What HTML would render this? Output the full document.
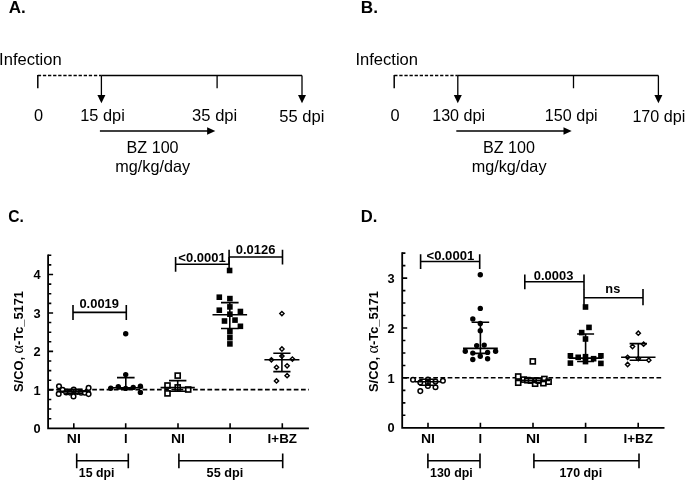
<!DOCTYPE html>
<html><head><meta charset="utf-8"><title>Figure</title>
<style>
html,body{margin:0;padding:0;background:#fff;}
svg{display:block;will-change:transform;filter:grayscale(1)}
text{font-family:"Liberation Sans",Arial,sans-serif;fill:#000}
.r{font-size:16.5px}
.b{font-weight:bold;font-size:12.8px}
.t{font-weight:bold;font-size:16px}
.l{stroke:#000;stroke-width:1.3;fill:none}
.k{stroke:#000;stroke-width:1.6;fill:none}
.oc{stroke:#000;stroke-width:1.5;fill:#fff}
.fc{fill:#000}
</style></head><body>
<svg width="685" height="482" viewBox="0 0 685 482">
<rect width="685" height="482" fill="#fff"/>

<text x="8.7" y="13.3" class="t" text-anchor="start" textLength="17.0" lengthAdjust="spacingAndGlyphs">A.</text>
<text x="-0.9" y="64.6" class="r" text-anchor="start" textLength="62.6" lengthAdjust="spacingAndGlyphs">Infection</text>
<path class="l" d="M37.8 88.3V74.9" style="stroke-width:1.5"/>
<path class="l" stroke-dasharray="3.3 1.8" d="M37.8 75.5H101.4" style="stroke-width:1.5"/>
<path class="l" d="M101.4 75.5H302.0M217.10000000000002 75.5V88.3M101.4 75.5V96M302.0 75.5V96"/>
<path class="fc" d="M97.4 95L105.4 95L101.4 103.2Z"/>
<path class="fc" d="M298.0 95L306.0 95L302.0 103.2Z"/>
<path class="l" d="M99.9 131H209.10000000000002"/>
<path class="fc" d="M207.10000000000002 127.2L215.3 131L207.10000000000002 134.8Z"/>
<text x="33.9" y="120.8" class="r" text-anchor="start" textLength="9.1" lengthAdjust="spacingAndGlyphs">0</text>
<text x="80.2" y="120.8" class="r" text-anchor="start" textLength="44.6" lengthAdjust="spacingAndGlyphs">15 dpi</text>
<text x="192.1" y="120.8" class="r" text-anchor="start" textLength="45.2" lengthAdjust="spacingAndGlyphs">35 dpi</text>
<text x="279.2" y="122.1" class="r" text-anchor="start" textLength="45.2" lengthAdjust="spacingAndGlyphs">55 dpi</text>
<text x="152.6" y="152.5" class="r" text-anchor="middle" textLength="52" lengthAdjust="spacingAndGlyphs">BZ 100</text>
<text x="152.7" y="171.6" class="r" text-anchor="middle" textLength="74.8" lengthAdjust="spacingAndGlyphs">mg/kg/day</text>
<text x="360.8" y="13.3" class="t" text-anchor="start" textLength="17.2" lengthAdjust="spacingAndGlyphs">B.</text>
<text x="355.40000000000003" y="64.6" class="r" text-anchor="start" textLength="62.6" lengthAdjust="spacingAndGlyphs">Infection</text>
<path class="l" d="M394.2 88.3V74.9" style="stroke-width:1.5"/>
<path class="l" stroke-dasharray="3.3 1.8" d="M394.2 75.5H457.8" style="stroke-width:1.5"/>
<path class="l" d="M457.8 75.5H658.4M573.5 75.5V88.3M457.8 75.5V96M658.4 75.5V96"/>
<path class="fc" d="M453.8 95L461.8 95L457.8 103.2Z"/>
<path class="fc" d="M654.4 95L662.4 95L658.4 103.2Z"/>
<path class="l" d="M456.3 131H565.5"/>
<path class="fc" d="M563.5 127.2L571.7 131L563.5 134.8Z"/>
<text x="390.4" y="120.8" class="r" text-anchor="start" textLength="9.1" lengthAdjust="spacingAndGlyphs">0</text>
<text x="432.2" y="120.8" class="r" text-anchor="start" textLength="52.9" lengthAdjust="spacingAndGlyphs">130 dpi</text>
<text x="544.8" y="120.8" class="r" text-anchor="start" textLength="52.9" lengthAdjust="spacingAndGlyphs">150 dpi</text>
<text x="632.4" y="122.1" class="r" text-anchor="start" textLength="52.9" lengthAdjust="spacingAndGlyphs">170 dpi</text>
<text x="509.0" y="152.5" class="r" text-anchor="middle" textLength="52" lengthAdjust="spacingAndGlyphs">BZ 100</text>
<text x="509.1" y="171.6" class="r" text-anchor="middle" textLength="74.8" lengthAdjust="spacingAndGlyphs">mg/kg/day</text>
<text x="8.2" y="222.4" class="t" text-anchor="start" textLength="15.6" lengthAdjust="spacingAndGlyphs">C.</text>
<path d="M48.1 254.475V428.3H308.9" fill="none" stroke="#000" stroke-width="1.8"/>
<path d="M48.1 418.69h3.2M48.1 409.07h3.2M48.1 399.46h3.2M48.1 389.85h5M48.1 380.24h3.2M48.1 370.62h3.2M48.1 361.01h3.2M48.1 351.4h5M48.1 341.79h3.2M48.1 332.18h3.2M48.1 322.56h3.2M48.1 312.95h5M48.1 303.34h3.2M48.1 293.73h3.2M48.1 284.11h3.2M48.1 274.5h5M48.1 264.89h3.2M48.1 255.28h3.2M73.8 428.3v-5M125.7 428.3v-5M178 428.3v-5M230.1 428.3v-5M282.3 428.3v-5" fill="none" stroke="#000" stroke-width="1.6"/>
<text x="40.6" y="432.9" class="b" text-anchor="end">0</text>
<text x="40.6" y="394.5" class="b" text-anchor="end">1</text>
<text x="40.6" y="356.0" class="b" text-anchor="end">2</text>
<text x="40.6" y="317.6" class="b" text-anchor="end">3</text>
<text x="40.6" y="279.1" class="b" text-anchor="end">4</text>
<path d="M49.0 389.65H308.9" fill="none" stroke="#000" stroke-width="1.6" stroke-dasharray="4.7 2.5"/>
<text class="b" style="font-size:13.5px" transform="translate(22.7 392) rotate(-90)" textLength="101" lengthAdjust="spacingAndGlyphs">S/CO, <tspan style="font-family:'Liberation Serif','DejaVu Serif',serif;font-weight:normal;font-size:17px">α</tspan>-Tc_5171</text>
<text x="73.8" y="442.6" class="b" text-anchor="middle" textLength="14.0" lengthAdjust="spacingAndGlyphs">NI</text>
<text x="125.7" y="442.6" class="b" text-anchor="middle" textLength="3.6" lengthAdjust="spacingAndGlyphs">I</text>
<text x="178" y="442.6" class="b" text-anchor="middle" textLength="14.0" lengthAdjust="spacingAndGlyphs">NI</text>
<text x="230.1" y="442.6" class="b" text-anchor="middle" textLength="3.6" lengthAdjust="spacingAndGlyphs">I</text>
<text x="282.3" y="442.6" class="b" text-anchor="middle" textLength="29.4" lengthAdjust="spacingAndGlyphs">I+BZ</text>
<circle class="oc" cx="59.0" cy="386.2" r="2.3"/>
<circle class="oc" cx="62.6" cy="389.9" r="2.3"/>
<circle class="oc" cx="58.7" cy="393.9" r="2.3"/>
<circle class="oc" cx="66.2" cy="392.4" r="2.3"/>
<circle class="oc" cx="73.7" cy="389.5" r="2.3"/>
<circle class="oc" cx="73.5" cy="396.4" r="2.3"/>
<circle class="oc" cx="69.9" cy="392.6" r="2.3"/>
<circle class="oc" cx="77.4" cy="392" r="2.3"/>
<circle class="oc" cx="81.1" cy="392.8" r="2.3"/>
<circle class="oc" cx="84.9" cy="392.8" r="2.3"/>
<circle class="oc" cx="88.6" cy="387.9" r="2.3"/>
<circle class="oc" cx="88.6" cy="394.1" r="2.3"/>
<path class="k" d="M65.1 389.3H82.5M65.1 393.2H82.5M73.8 389.3V393.2M56.8 391.4H90.8"/>
<circle class="fc" cx="125.7" cy="333.8" r="2.7"/>
<circle class="fc" cx="125.7" cy="374.6" r="2.7"/>
<circle class="fc" cx="110.8" cy="388.3" r="2.7"/>
<circle class="fc" cx="118.3" cy="386.6" r="2.7"/>
<circle class="fc" cx="125.7" cy="388.4" r="2.7"/>
<circle class="fc" cx="133.2" cy="387.4" r="2.7"/>
<circle class="fc" cx="140.4" cy="386.2" r="2.7"/>
<circle class="fc" cx="140.4" cy="392.4" r="2.7"/>
<path class="k" d="M117.0 377.6H134.6M117.0 388.9H134.6M125.8 377.6V388.9M108.4 387.8H143.2"/>
<rect class="oc" x="175.2" y="373.1" width="5" height="5" style="stroke-width:1.65"/>
<rect class="oc" x="165.0" y="383.0" width="5" height="5" style="stroke-width:1.65"/>
<rect class="oc" x="165.0" y="390.9" width="5" height="5" style="stroke-width:1.65"/>
<rect class="oc" x="175.2" y="384.9" width="5" height="5" style="stroke-width:1.65"/>
<rect class="oc" x="185.7" y="387.0" width="5" height="5" style="stroke-width:1.65"/>
<path class="k" d="M169.0 380.6H186.39999999999998M169.0 391.2H186.39999999999998M177.7 380.6V391.2M160.6 387.6H194.79999999999998"/>
<rect class="fc" x="226.79999999999998" y="267.7" width="5.6" height="5.6"/>
<rect class="fc" x="216.5" y="294.4" width="5.6" height="5.6"/>
<rect class="fc" x="227.1" y="295.8" width="5.6" height="5.6"/>
<rect class="fc" x="227.1" y="304.09999999999997" width="5.6" height="5.6"/>
<rect class="fc" x="216.5" y="307.4" width="5.6" height="5.6"/>
<rect class="fc" x="237.6" y="308.7" width="5.6" height="5.6"/>
<rect class="fc" x="227.1" y="311.4" width="5.6" height="5.6"/>
<rect class="fc" x="221.7" y="318.2" width="5.6" height="5.6"/>
<rect class="fc" x="232.2" y="317.3" width="5.6" height="5.6"/>
<rect class="fc" x="237.6" y="323.5" width="5.6" height="5.6"/>
<rect class="fc" x="227.1" y="328.9" width="5.6" height="5.6"/>
<rect class="fc" x="227.1" y="334.9" width="5.6" height="5.6"/>
<rect class="fc" x="227.1" y="341.09999999999997" width="5.6" height="5.6"/>
<path class="k" d="M221.0 302.6H238.60000000000002M221.0 328.5H238.60000000000002M229.8 302.6V328.5M212.5 314.7H247.10000000000002"/>
<path class="oc" style="stroke-width:1.4" d="M281.9 311.45000000000005L284.04999999999995 313.6L281.9 315.75L279.75 313.6Z"/>
<path class="oc" style="stroke-width:1.4" d="M281.9 346.85L284.04999999999995 349L281.9 351.15L279.75 349Z"/>
<path class="oc" style="stroke-width:1.4" d="M281.9 353.95000000000005L284.04999999999995 356.1L281.9 358.25L279.75 356.1Z"/>
<path class="oc" style="stroke-width:1.4" d="M271.4 357.65000000000003L273.54999999999995 359.8L271.4 361.95L269.25 359.8Z"/>
<path class="oc" style="stroke-width:1.4" d="M292.4 356.95000000000005L294.54999999999995 359.1L292.4 361.25L290.25 359.1Z"/>
<path class="oc" style="stroke-width:1.4" d="M276.5 365.15000000000003L278.65 367.3L276.5 369.45L274.35 367.3Z"/>
<path class="oc" style="stroke-width:1.4" d="M287.1 363.65000000000003L289.25 365.8L287.1 367.95L284.95000000000005 365.8Z"/>
<path class="oc" style="stroke-width:1.4" d="M287.1 373.55L289.25 375.7L287.1 377.84999999999997L284.95000000000005 375.7Z"/>
<path class="oc" style="stroke-width:1.4" d="M276.5 378.75L278.65 380.9L276.5 383.04999999999995L274.35 380.9Z"/>
<path class="k" d="M273.29999999999995 353.3H290.5M273.29999999999995 371.6H290.5M281.9 353.3V371.6M264.4 359.8H299.4"/>
<path class="k" d="M73 312.4H126.3M73 305.09999999999997V319.9M126.3 305.09999999999997V319.9"/>
<text x="99.2" y="307.8" class="b" text-anchor="middle" textLength="39.5" lengthAdjust="spacingAndGlyphs">0.0019</text>
<path class="k" d="M175.6 264.3H229.1M175.6 257.0V271.8M229.1 257.0V271.8"/>
<text x="202" y="261.6" class="b" text-anchor="middle" textLength="47.3" lengthAdjust="spacingAndGlyphs">&lt;0.0001</text>
<path class="k" d="M229.1 257H282.5M229.1 249.7V264.5M282.5 249.7V264.5"/>
<text x="255.6" y="254" class="b" text-anchor="middle" textLength="39.7" lengthAdjust="spacingAndGlyphs">0.0126</text>
<path class="k" d="M76.7 460.7H128.3M76.7 453.4V468.2M128.3 453.4V468.2"/>
<text x="96.6" y="477.1" class="b" text-anchor="middle" textLength="35.6" lengthAdjust="spacingAndGlyphs">15 dpi</text>
<path class="k" d="M178.9 460.7H282.7M178.9 453.4V468.2M282.7 453.4V468.2"/>
<text x="224.9" y="477.1" class="b" text-anchor="middle" textLength="36.6" lengthAdjust="spacingAndGlyphs">55 dpi</text>
<text x="360.8" y="222.4" class="t" text-anchor="start" textLength="16.6" lengthAdjust="spacingAndGlyphs">D.</text>
<path d="M402.2 252.35V427.8H664.5" fill="none" stroke="#000" stroke-width="1.8"/>
<path d="M402.2 415.32h3.2M402.2 402.85h3.2M402.2 390.38h3.2M402.2 377.9h5M402.2 365.43h3.2M402.2 352.95h3.2M402.2 340.48h3.2M402.2 328.0h5M402.2 315.53h3.2M402.2 303.05h3.2M402.2 290.58h3.2M402.2 278.1h5M402.2 265.62h3.2M402.2 253.15h3.2M428 427.8v-5M480.4 427.8v-5M533 427.8v-5M585.6 427.8v-5M638.2 427.8v-5" fill="none" stroke="#000" stroke-width="1.6"/>
<text x="394.7" y="432.4" class="b" text-anchor="end">0</text>
<text x="394.7" y="382.5" class="b" text-anchor="end">1</text>
<text x="394.7" y="332.6" class="b" text-anchor="end">2</text>
<text x="394.7" y="282.7" class="b" text-anchor="end">3</text>
<path d="M404.45 377.7H662" fill="none" stroke="#000" stroke-width="1.6" stroke-dasharray="4.7 2.5"/>
<text class="b" style="font-size:13.5px" transform="translate(378.3 392) rotate(-90)" textLength="101" lengthAdjust="spacingAndGlyphs">S/CO, <tspan style="font-family:'Liberation Serif','DejaVu Serif',serif;font-weight:normal;font-size:17px">α</tspan>-Tc_5171</text>
<text x="428" y="442.6" class="b" text-anchor="middle" textLength="14.0" lengthAdjust="spacingAndGlyphs">NI</text>
<text x="480.4" y="442.6" class="b" text-anchor="middle" textLength="3.6" lengthAdjust="spacingAndGlyphs">I</text>
<text x="533" y="442.6" class="b" text-anchor="middle" textLength="14.0" lengthAdjust="spacingAndGlyphs">NI</text>
<text x="585.6" y="442.6" class="b" text-anchor="middle" textLength="3.6" lengthAdjust="spacingAndGlyphs">I</text>
<text x="638.2" y="442.6" class="b" text-anchor="middle" textLength="29.4" lengthAdjust="spacingAndGlyphs">I+BZ</text>
<circle class="oc" cx="413" cy="379.7" r="2.3"/>
<circle class="oc" cx="420.3" cy="382.5" r="2.3"/>
<circle class="oc" cx="420.3" cy="391.1" r="2.3"/>
<circle class="oc" cx="427.9" cy="379.5" r="2.3"/>
<circle class="oc" cx="427.9" cy="382.7" r="2.3"/>
<circle class="oc" cx="427.9" cy="386" r="2.3"/>
<circle class="oc" cx="435.5" cy="381.6" r="2.3"/>
<circle class="oc" cx="435.5" cy="387.3" r="2.3"/>
<circle class="oc" cx="442.9" cy="380.8" r="2.3"/>
<path class="k" d="M419.3 379.2H436.7M419.3 385.2H436.7M428 379.2V385.2M415 381.8H441"/>
<circle class="fc" cx="480.3" cy="274.8" r="2.7"/>
<circle class="fc" cx="480.3" cy="308.4" r="2.7"/>
<circle class="fc" cx="472.8" cy="318.9" r="2.7"/>
<circle class="fc" cx="480.3" cy="323.4" r="2.7"/>
<circle class="fc" cx="480.3" cy="330.7" r="2.7"/>
<circle class="fc" cx="476.7" cy="345.6" r="2.7"/>
<circle class="fc" cx="484.2" cy="345.1" r="2.7"/>
<circle class="fc" cx="465.3" cy="351.3" r="2.7"/>
<circle class="fc" cx="472.8" cy="353.1" r="2.7"/>
<circle class="fc" cx="487.6" cy="352.4" r="2.7"/>
<circle class="fc" cx="495.6" cy="351.3" r="2.7"/>
<circle class="fc" cx="480.3" cy="356.3" r="2.7"/>
<circle class="fc" cx="472.8" cy="359.5" r="2.7"/>
<circle class="fc" cx="487.6" cy="358.8" r="2.7"/>
<path class="k" d="M471.59999999999997 322.2H489.2M471.59999999999997 353.4H489.2M480.4 322.2V353.4M463.0 348.4H497.79999999999995"/>
<rect class="oc" x="530.3" y="358.9" width="5" height="5" style="stroke-width:1.65"/>
<rect class="oc" x="515.7" y="374.0" width="5" height="5" style="stroke-width:1.65"/>
<rect class="oc" x="515.7" y="380.2" width="5" height="5" style="stroke-width:1.65"/>
<rect class="oc" x="521.2" y="377.1" width="5" height="5" style="stroke-width:1.65"/>
<rect class="oc" x="524.8" y="377.6" width="5" height="5" style="stroke-width:1.65"/>
<rect class="oc" x="528.5" y="378.1" width="5" height="5" style="stroke-width:1.65"/>
<rect class="oc" x="532.6" y="381.2" width="5" height="5" style="stroke-width:1.65"/>
<rect class="oc" x="536.2" y="378.1" width="5" height="5" style="stroke-width:1.65"/>
<rect class="oc" x="540.9" y="380.7" width="5" height="5" style="stroke-width:1.65"/>
<rect class="oc" x="541.9" y="376.5" width="5" height="5" style="stroke-width:1.65"/>
<rect class="oc" x="546.1" y="379.2" width="5" height="5" style="stroke-width:1.65"/>
<path class="k" d="M524.3 378.3H541.7M524.3 382.5H541.7M533 378.3V382.5M516 380.4H550"/>
<rect class="fc" x="582.7" y="304.2" width="5.6" height="5.6"/>
<rect class="fc" x="586.2" y="324.59999999999997" width="5.6" height="5.6"/>
<rect class="fc" x="578.9000000000001" y="329.8" width="5.6" height="5.6"/>
<rect class="fc" x="582.7" y="336.2" width="5.6" height="5.6"/>
<rect class="fc" x="567.6" y="353.0" width="5.6" height="5.6"/>
<rect class="fc" x="575.4000000000001" y="354.5" width="5.6" height="5.6"/>
<rect class="fc" x="582.7" y="353.9" width="5.6" height="5.6"/>
<rect class="fc" x="590.8000000000001" y="355.9" width="5.6" height="5.6"/>
<rect class="fc" x="598.1" y="353.0" width="5.6" height="5.6"/>
<rect class="fc" x="567.6" y="360.3" width="5.6" height="5.6"/>
<rect class="fc" x="582.7" y="358.8" width="5.6" height="5.6"/>
<rect class="fc" x="598.1" y="360.59999999999997" width="5.6" height="5.6"/>
<path class="k" d="M577.1 334H594.1M577.1 361.5H594.1M585.6 334V361.5M569.1 358.1H602.1"/>
<path class="oc" style="stroke-width:1.4" d="M638.3 331.05L640.4499999999999 333.2L638.3 335.34999999999997L636.15 333.2Z"/>
<path class="oc" style="stroke-width:1.4" d="M643.6 342.05L645.75 344.2L643.6 346.34999999999997L641.45 344.2Z"/>
<path class="oc" style="stroke-width:1.4" d="M632.5 344.35L634.65 346.5L632.5 348.65L630.35 346.5Z"/>
<path class="oc" style="stroke-width:1.4" d="M627.6 355.15000000000003L629.75 357.3L627.6 359.45L625.45 357.3Z"/>
<path class="oc" style="stroke-width:1.4" d="M638.3 356.55L640.4499999999999 358.7L638.3 360.84999999999997L636.15 358.7Z"/>
<path class="oc" style="stroke-width:1.4" d="M648.8 358.05L650.9499999999999 360.2L648.8 362.34999999999997L646.65 360.2Z"/>
<path class="oc" style="stroke-width:1.4" d="M627.6 362.35L629.75 364.5L627.6 366.65L625.45 364.5Z"/>
<path class="k" d="M629.5999999999999 343.6H647.0M629.5999999999999 360.3H647.0M638.3 343.6V360.3M621.0999999999999 357.3H655.5"/>
<path class="k" d="M420.6 261.5H479.7M420.6 254.2V269.0M479.7 254.2V269.0"/>
<text x="450.4" y="259.9" class="b" text-anchor="middle" textLength="47.7" lengthAdjust="spacingAndGlyphs">&lt;0.0001</text>
<path class="k" d="M524.8 281.8H584M524.8 274.5V289.3M584 274.5V289.3"/>
<text x="553.6" y="279.7" class="b" text-anchor="middle" textLength="39.5" lengthAdjust="spacingAndGlyphs">0.0003</text>
<path class="k" d="M584 297.7H643M584 289.09999999999997V305.3M643 289.09999999999997V305.3"/>
<text x="612.8" y="293.4" class="b" text-anchor="middle">ns</text>
<path class="k" d="M427.9 460.7H480M427.9 453.4V468.2M480 453.4V468.2"/>
<text x="451.4" y="477.1" class="b" text-anchor="middle" textLength="42.6" lengthAdjust="spacingAndGlyphs">130 dpi</text>
<path class="k" d="M533.9 460.7H639M533.9 453.4V468.2M639 453.4V468.2"/>
<text x="580.8" y="477.1" class="b" text-anchor="middle" textLength="42.6" lengthAdjust="spacingAndGlyphs">170 dpi</text>
</svg></body></html>
